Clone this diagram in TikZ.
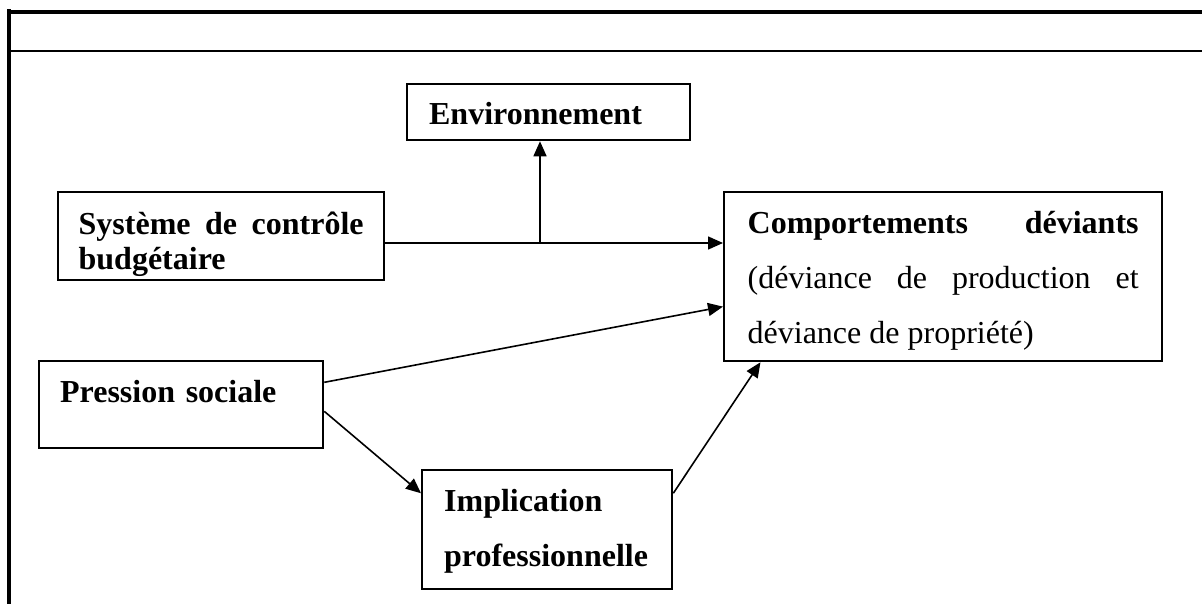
\documentclass[tikz,border=0pt]{standalone}
\usepackage{fontspec}
\setmainfont{Liberation Serif}
\usetikzlibrary{calc,arrows.meta}

\begin{document}
\begin{tikzpicture}[x=1pt,y=-1pt,
  box/.style={draw,line width=2.3pt,anchor=north west,inner ysep=0pt,align=justify,font=\fontsize{32}{55}\selectfont},
  conn/.style={line width=1.6pt,-{Triangle[length=15pt,width=13pt]}}]
\useasboundingbox (0,0) rectangle (1202,604);
% cadre
\draw[line width=3.7pt] (9,9.5)--(9,604);
\draw[line width=3.7pt] (7.2,11.8)--(1202,11.8);
\draw[line width=2.3pt] (9,51)--(1202,51);
% cases
\node[box,align=left,inner xsep=22pt,text width=239pt,text height=40pt,text depth=16pt] (env) at (406,83) {\bfseries Environnement};
\node[box,font=\fontsize{32}{35}\selectfont,inner xsep=20.5pt,text width=285pt,text height=42pt,text depth=46pt] (scb) at (57,191) {\bfseries Système de contrôle\linebreak budgétaire};
\node[box,inner xsep=23.5pt,text width=391pt,text height=41pt,text depth=128pt] (com) at (723,191) {{\bfseries Comportements déviants}\linebreak (déviance de production et\linebreak déviance de propriété)};
\node[box,align=left,inner xsep=21pt,text width=242pt,text height=41pt,text depth=46pt] (ps) at (38,360) {\bfseries Pression sociale};
\node[box,align=left,inner xsep=22pt,text width=206pt,text height=41pt,text depth=78pt] (impl) at (421,469) {\bfseries Implication\\ professionnelle};
% liens
\coordinate (j) at (540,243);
\draw[line width=1.6pt] (scb.east |- j) -- (j);
\draw[conn] (j) -- (j -| com.west);
\draw[conn] (j) -- (j |- env.south);
\draw[conn] ($(ps.north east)!.25!(ps.south east)$) -- ($(com.north west)!.675!(com.south west)$);
\draw[conn] ($(ps.north east)!.575!(ps.south east)$) -- ($(impl.north west)!.2!(impl.south west)$);
\draw[conn] ($(impl.north east)!.2!(impl.south east)$) -- ($(com.south west)!.085!(com.south east)$);
\end{tikzpicture}
\end{document}
